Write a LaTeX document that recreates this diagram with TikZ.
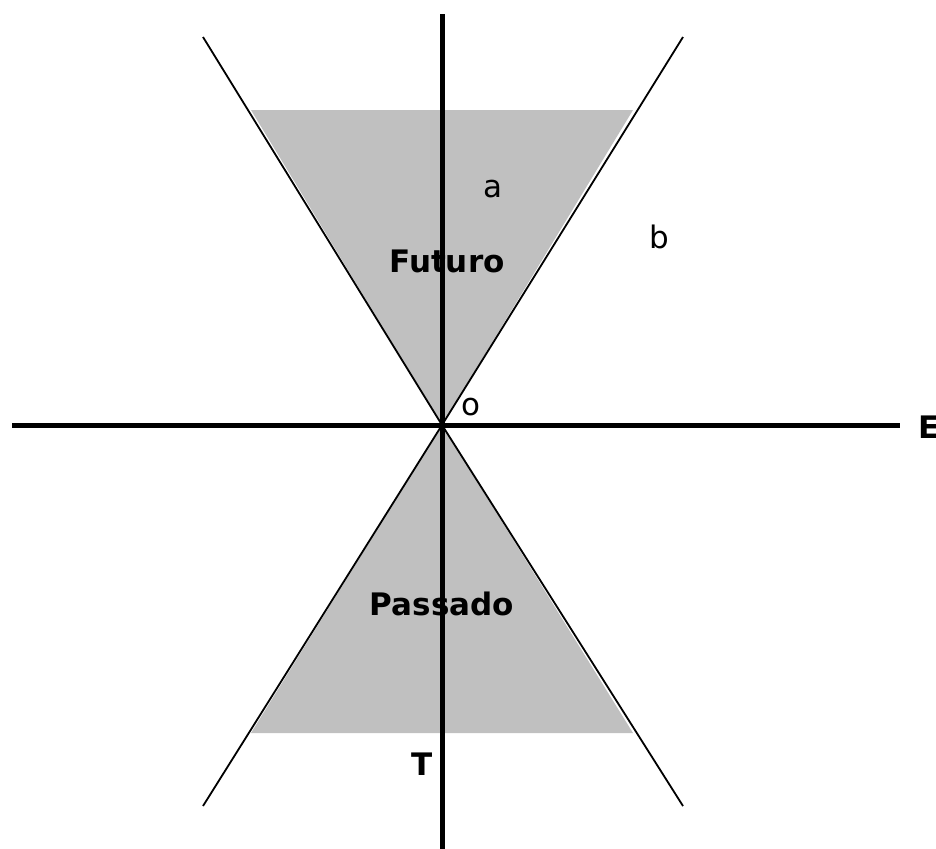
\documentclass[tikz,border=0pt]{standalone}
\usepackage{fontspec}
\setmainfont{DejaVu Sans}
\usetikzlibrary{positioning}
\definecolor{conegray}{HTML}{C0C0C0}

\begin{document}
\begin{tikzpicture}[x=0.5pt,y=-0.5pt,font=\fontsize{15.5}{18}\selectfont]
  \tikzset{
    axisline/.style={line width=2.5pt},
    coneline/.style={line width=0.9pt},
    region/.style={font=\fontsize{15.5}{18}\selectfont\bfseries},
  }
  \useasboundingbox (0,0) rectangle (936,848);

  % ---------- pontos ----------
  \coordinate (O) at (442,425);
  \coordinate (ul) at (203,37);
  \coordinate (ur) at (683,37);
  \coordinate (ll) at (203,806);
  \coordinate (lr) at (683,806);
  \coordinate (xa) at (12,425);
  \coordinate (xb) at (900,425);
  \coordinate (ta) at (442,14);
  \coordinate (tb) at (442,850);

  % ---------- cones ----------
  \fill[conegray] (O) -- (251,110) -- (633,110) -- cycle;
  \fill[conegray] (O) -- (251,733) -- (633,733) -- cycle;
  \draw[coneline] (ul) -- (O) -- (lr);
  \draw[coneline] (ur) -- (O) -- (ll);

  % ---------- eixos ----------
  \draw[axisline] (xa) -- (xb);
  \draw[axisline] (ta) -- (tb);

  % ---------- rótulos ----------
  \node[region] (futuro) at (447,261) {Futuro};
  \node[region] (passado) at (442,604) {Passado};
  \node (a) at (493,189) {a};
  \node (b) at (659,237) {b};
  \node (o) at (471,407) {o};
  \node[region] (T) at (422,764) {T};
  \node[region] (E) at (929,427) {E};
\end{tikzpicture}
\end{document}
